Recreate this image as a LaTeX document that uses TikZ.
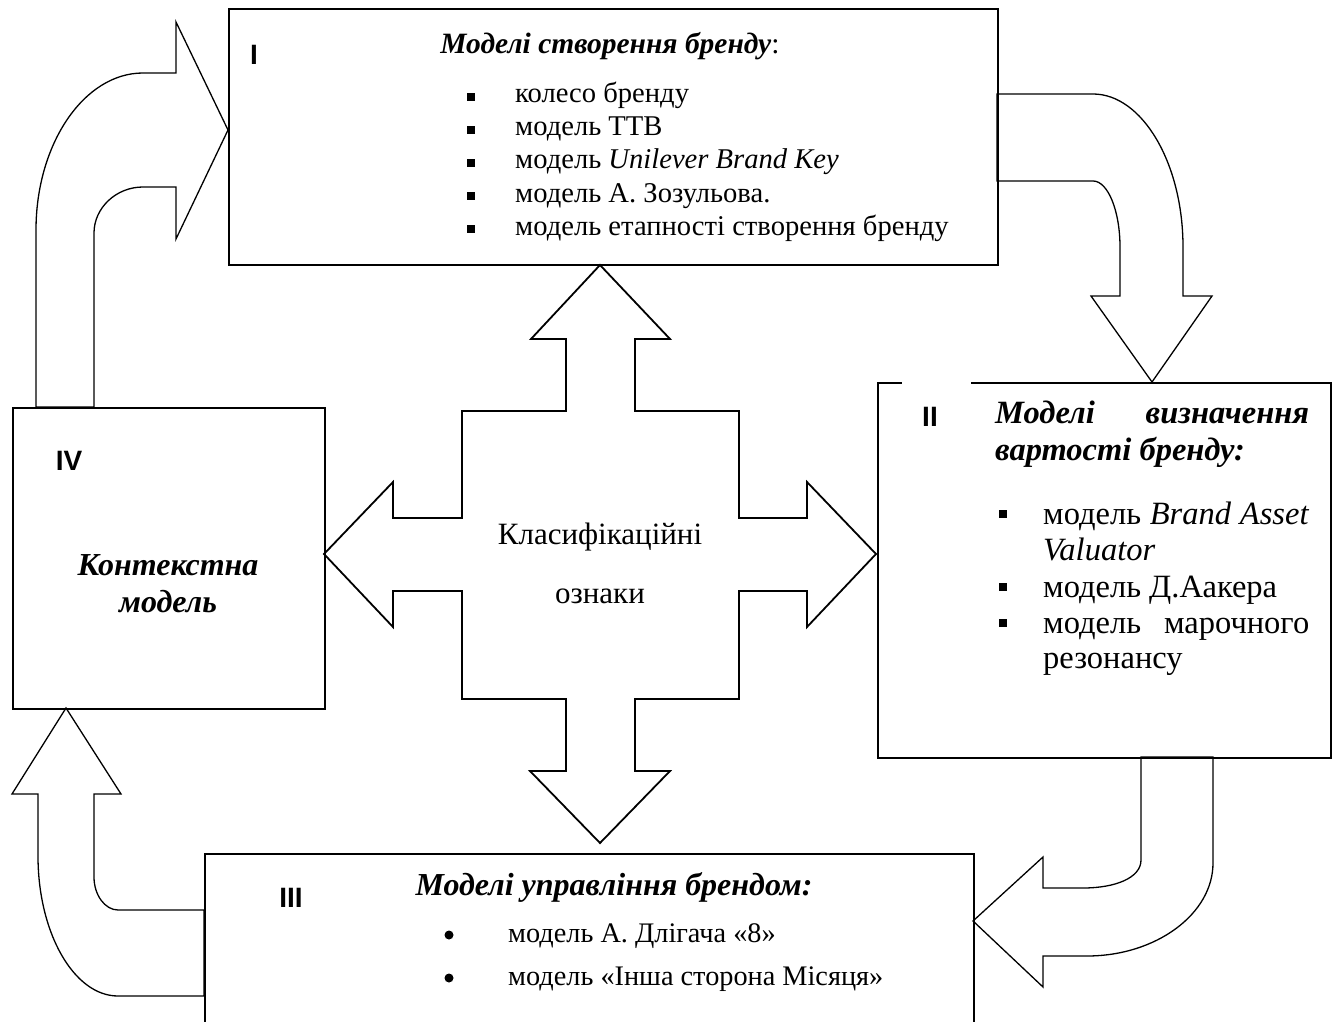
\documentclass[tikz,border=0pt]{standalone}
\usepackage{fontspec}
\setmainfont{Liberation Serif}
\newfontfamily\arialfont{Liberation Sans}
\newcommand{\szA}{\fontsize{28.6}{33}\selectfont}
\newcommand{\szAt}{\fontsize{29.5}{33}\selectfont}
\newcommand{\szB}{\fontsize{32.5}{37}\selectfont}
\newcommand{\szK}{\fontsize{31}{36}\selectfont}
\newcommand{\szC}{\fontsize{28.3}{34}\selectfont}
\newcommand{\szCt}{\fontsize{32}{36}\selectfont}
\newcommand{\szD}{\fontsize{32}{37}\selectfont}
\begin{document}
\begin{tikzpicture}[x=1pt,y=-1pt,
  box/.style={draw, line width=2.2pt, rectangle, anchor=north west, inner sep=0pt},
  blockarrow/.style={draw, fill=white, line width=1.3pt, line join=miter},
  crossarrow/.style={draw, fill=white, line width=1.8pt, line join=miter},
  roman/.style={font=\arialfont\bfseries\fontsize{28}{30}\selectfont, inner sep=0pt},
  txt/.style={inner sep=0pt, anchor=base west},
  ctxt/.style={inner sep=0pt, anchor=base},
  sqbullet/.style={fill=black, rectangle, minimum size=8pt, inner sep=0pt},
  rdbullet/.style={fill=black, circle, minimum size=9pt, inner sep=0pt}]
\path[use as bounding box] (0,0) rectangle (1334,1022);
\clip (0,0) rectangle (1334,1022);

% ---------- block arrows ----------
% IV -> I
\path[blockarrow] (36,407) -- (36,230) .. controls (36,144) and (84,73) .. (143,73) -- (176,73) -- (176,22) -- (228,130) -- (176,239) -- (176,187) -- (143,187) .. controls (116,187) and (94,208) .. (94,233) -- (94,407) -- cycle;
% I -> II
\path[blockarrow] (997,94) -- (1093,94) .. controls (1142,94) and (1183,163) .. (1183,247) -- (1183,296) -- (1212,296) -- (1152,382) -- (1091,296) -- (1120,296) -- (1120,247) .. controls (1120,211) and (1108,181) .. (1093,181) -- (997,181) -- cycle;
% II -> III
\path[blockarrow] (1213,757) -- (1213,863) .. controls (1213,914) and (1156,956) .. (1087,956) -- (1043,956) -- (1043,987) -- (973,921) -- (1043,857) -- (1043,888) -- (1083,888) .. controls (1115,888) and (1141,878) .. (1141,860) -- (1141,757) -- cycle;
% III -> IV
\path[blockarrow] (204,996) -- (118,996) .. controls (74,996) and (38,933) .. (38,856) -- (38,794) -- (12,794) -- (66,708) -- (121,794) -- (94,794) -- (94,877) .. controls (94,895) and (105,910) .. (118,910) -- (204,910) -- cycle;

% ---------- central cross ----------
\path[crossarrow] (600,265) -- (670,339) -- (635,339) -- (635,411) -- (739,411) -- (739,518) -- (807,518) -- (807,482) -- (876,554) -- (807,627) -- (807,591) -- (739,591) -- (739,699) -- (635,699) -- (635,771) -- (670,771) -- (600,843) -- (530,771) -- (566,771) -- (566,699) -- (462,699) -- (462,591) -- (393,591) -- (393,627) -- (324,554) -- (393,482) -- (393,518) -- (462,518) -- (462,411) -- (566,411) -- (566,339) -- (531,339) -- cycle;
\node[ctxt, font=\szK] (k1) at (600,544) {Класифікаційні};
\node[ctxt, font=\szK] (k2) at (600,603) {ознаки};

% ---------- boxes ----------
\node[box, minimum width=769pt, minimum height=256pt] (b1) at (228,8) {};
\node[box, minimum width=453pt, minimum height=375pt] (b2) at (877,382) {};
\node[box, minimum width=769pt, minimum height=220pt] (b3) at (204,853) {};
\node[box, minimum width=312pt, minimum height=301pt] (b4) at (12,407) {};
\draw[white, line width=3pt] (902,382) -- (971,382);

% ---------- box I ----------
\node[roman] (lI) at (254,55) {I};
\node[ctxt, font=\szAt] (t1) at (610,54) {\textbf{\textit{Моделі створення бренду}}:};
\node[sqbullet] (b1a) at (471,97) {};
\node[txt, font=\szA] (i1a) at (515,103) {колесо бренду};
\node[sqbullet] (b1b) at (471,130) {};
\node[txt, font=\szA] (i1b) at (515,136) {модель ТТВ};
\node[sqbullet] (b1c) at (471,163) {};
\node[txt, font=\szA] (i1c) at (515,169) {модель \textit{Unilever Brand Key}};
\node[sqbullet] (b1d) at (471,196) {};
\node[txt, font=\szA] (i1d) at (515,202) {модель А. Зозульова.};
\node[sqbullet] (b1e) at (471,229) {};
\node[txt, font=\szA] (i1e) at (515,235) {модель етапності створення бренду};

% ---------- box II ----------
\node[roman] (lII) at (930,417) {II};
\node[txt, font=\szB] (t2a) at (995,423) {\hbox to 314pt{\bfseries\itshape Моделі\hfill визначення}};
\node[txt, font=\szB] (t2b) at (995,460) {\textbf{\textit{вартості бренду:}}};
\node[sqbullet] (b2a) at (1003,514) {};
\node[txt, font=\szB] (i2a) at (1043,524) {\hbox to 266pt{модель\hfill\textit{Brand}\hfill\textit{Asset}}};
\node[txt, font=\szB] (i2b) at (1043,560) {\textit{Valuator}};
\node[sqbullet] (b2c) at (1003,587) {};
\node[txt, font=\szB] (i2c) at (1043,597) {модель Д.Аакера};
\node[sqbullet] (b2d) at (1003,623) {};
\node[txt, font=\szB] (i2d) at (1043,633) {\hbox to 266pt{модель\hfill марочного}};
\node[txt, font=\szB] (i2e) at (1043,668) {резонансу};

% ---------- box III ----------
\node[roman] (lIII) at (291,898) {III};
\node[ctxt, font=\szCt] (t3) at (614,895) {\textbf{\textit{Моделі управління брендом:}}};
\node[rdbullet] (b3a) at (449,935) {};
\node[txt, font=\szC] (i3a) at (508,942) {модель А. Длігача «8»};
\node[rdbullet] (b3b) at (449,978) {};
\node[txt, font=\szC] (i3b) at (508,985) {модель «Інша сторона Місяця»};

% ---------- box IV ----------
\node[roman] (lIV) at (69,461) {IV};
\node[ctxt, font=\szD] (t4a) at (168,575) {\textbf{\textit{Контекстна}}};
\node[ctxt, font=\szD] (t4b) at (168,612) {\textbf{\textit{модель}}};
\end{tikzpicture}
\end{document}
